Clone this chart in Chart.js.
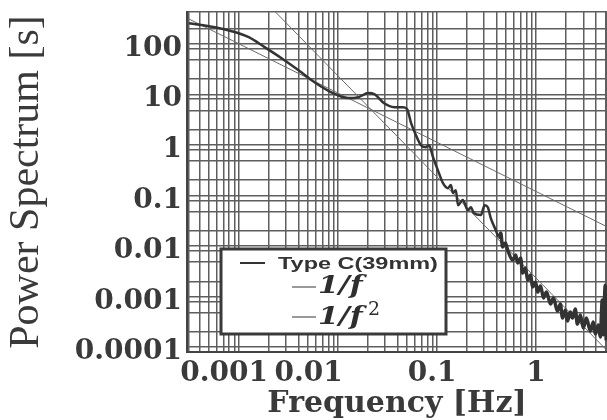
<!DOCTYPE html>
<html>

<head>
  <meta charset="utf-8">
  <title>Power Spectrum - Type C(39mm)</title>
  <script src="https://cdn.jsdelivr.net/npm/chart.js@4.4.0/dist/chart.umd.min.js"></script>
  <style>
    html,
    body {
      margin: 0;
      padding: 0;
      background: #fff;
    }

    canvas {
      display: block;
    }
  </style>
</head>

<body>
  <canvas id="chartJSContainer" width="607" height="420"></canvas>
  <script>
    var freq = [3.14e-4, 5.74e-4, 8.5e-4, 1.26e-3, 1.82e-3, 2.70e-3, 4.01e-3, 5.81e-3, 8.6e-3, 0.0128,
      0.0161, 0.0203, 0.0233, 0.0293, 0.037, 0.0455, 0.05, 0.0548, 0.0601, 0.069,
      0.0775, 0.0831, 0.0912, 0.102, 0.115, 0.129, 0.138, 0.145, 0.155, 0.163,
      0.182, 0.205, 0.22, 0.235, 0.277, 0.303, 0.326, 0.349, 0.392, 0.42,
      0.44, 0.46, 0.49, 0.517, 0.58, 0.622, 0.652, 0.698, 0.731, 0.783,
      0.822, 0.881, 0.922, 0.989, 1.035, 1.11, 1.19, 1.275, 1.40, 1.50,
      1.64, 1.76, 1.85, 1.98, 2.07, 2.22, 2.33, 2.49, 2.61, 2.80,
      3.00, 3.22, 3.53, 3.78, 3.96, 4.25, 4.45, 4.66, 4.77, 4.99, 5.1];
    var power = [318, 265, 221, 168, 107, 64.6, 37.4, 21.7, 13.7, 10.5,
      10.96, 13.2, 12.6, 8.3, 6.95, 6.95, 6.34, 3.36, 2.13, 1.23,
      1.12, 1.23, 0.714, 0.396, 0.219, 0.174, 0.2, 0.139, 0.159, 0.080,
      0.101, 0.064, 0.073, 0.056, 0.051, 0.080, 0.073, 0.0445, 0.0258, 0.0187,
      0.0225, 0.0119, 0.0143, 0.0104, 0.00658, 0.00826, 0.00574, 0.0072, 0.00364, 0.00457,
      0.00265, 0.00333, 0.00193, 0.00242, 0.00153, 0.00201, 0.00117, 0.00153, 0.00089, 0.00117,
      0.000646, 0.00089, 0.00047, 0.000676, 0.00041, 0.000618, 0.00047, 0.000708, 0.000357, 0.000538,
      0.000298, 0.00047, 0.00026, 0.00039, 0.000227, 0.000342, 0.000198, 0.00107, 0.00022, 0.0021, 0.00017];

    // reference slopes (end points)
    var invF = [[3.1e-4, 390], [5.2, 0.03]];
    var invF2 = [[0.0023, 550], [5.2, 1.07e-4]];

    var seriesNames = ['Type C(39mm)', '1/f', '1/f'];
    var xMin = 3.1e-4, xMax = 5.2;
    var yMin = 1e-4, yMax = 530;
    var ySubGrid = [1, 1.25, 2.5, 6];
    var xLabelPad = { '0.001': 3, '0.01': 6, '0.1': 1 };

    function toPts(xs, ys) {
      return xs.map(function(x, i) { return { x: x, y: ys[i] }; });
    }
    function pairPts(arr) {
      return arr.map(function(p) { return { x: p[0], y: p[1] }; });
    }
    function isDecade(v) {
      var l = Math.log10(v);
      return Math.abs(l - Math.round(l)) < 1e-6;
    }

    var gridColor = '#5e5e5e';

    var boxLegend = {
      id: 'boxLegend',
      afterDatasetsDraw: function(chart) {
        var ctx = chart.ctx, a = chart.chartArea;
        var bx = a.left + 34, by = a.bottom - 103, bw = 225, bh = 85;
        ctx.save();
        ctx.fillStyle = '#fff';
        ctx.fillRect(bx, by, bw, bh);
        ctx.lineWidth = 3;
        ctx.strokeStyle = '#3a3a3a';
        ctx.strokeRect(bx, by, bw, bh);

        // row 1
        ctx.strokeStyle = '#333';
        ctx.lineWidth = 2;
        ctx.beginPath();
        ctx.moveTo(bx + 19, by + 14); ctx.lineTo(bx + 44, by + 14);
        ctx.stroke();
        ctx.fillStyle = '#333';
        ctx.textBaseline = 'alphabetic';
        ctx.save();
        ctx.translate(bx + 57, by + 20);
        ctx.scale(1.38, 1);
        ctx.font = 'bold 17px "Liberation Sans", Arial, sans-serif';
        ctx.fillText(seriesNames[0], 0, 0);
        ctx.restore();

        // rows 2, 3
        ctx.strokeStyle = '#777';
        ctx.lineWidth = 1.5;
        [38, 68].forEach(function(dy) {
          ctx.beginPath();
          ctx.moveTo(bx + 71, by + dy); ctx.lineTo(bx + 95, by + dy);
          ctx.stroke();
        });
        ctx.fillStyle = '#2e2e2e';
        [44, 75].forEach(function(dy, i) {
          ctx.save();
          ctx.translate(bx + 97, by + dy);
          ctx.scale(1.2, 1);
          ctx.font = 'italic bold 25px "DejaVu Serif", serif';
          ctx.fillText(seriesNames[i + 1], 0, 0);
          ctx.restore();
        });
        ctx.font = '19px "DejaVu Serif", serif';
        ctx.fillText('2', bx + 147, by + 66);
        ctx.restore();
      }
    };

    var options = {
      type: 'scatter',
      data: {
        datasets: [{
          label: seriesNames[0],
          data: toPts(freq, power),
          showLine: true,
          borderColor: '#333',
          borderWidth: 2.5,
          pointRadius: 0,
          cubicInterpolationMode: 'monotone',
          segment: {
            borderWidth: function(c) { return c.p0.parsed.x > 0.4 ? 3.5 : 2.5; }
          }
        }, {
          label: '1/f',
          data: pairPts(invF),
          showLine: true,
          borderColor: '#6a6a6a',
          borderWidth: 1,
          pointRadius: 0
        }, {
          label: '1/f^2',
          data: pairPts(invF2),
          showLine: true,
          borderColor: '#6a6a6a',
          borderWidth: 1,
          pointRadius: 0
        }]
      },
      options: {
        responsive: false,
        animation: false,
        layout: { padding: 0 },
        plugins: {
          legend: { display: false },
          tooltip: { enabled: false }
        },
        scales: {
          x: {
            type: 'logarithmic',
            min: xMin,
            max: xMax,
            afterBuildTicks: function(scale) {
              var t = [{ value: xMin }];
              for (var e = -4; e <= 0; e++) {
                for (var s = 1; s <= 9; s++) {
                  var v = +(s * Math.pow(10, e)).toPrecision(6);
                  if (v > xMin && v < xMax) t.push({ value: v });
                }
              }
              t.push({ value: xMax });
              scale.ticks = t;
            },
            afterFit: function(scale) {
              scale.height = 68;
              scale.paddingLeft = 0;
              scale.paddingRight = 0;
            },
            grid: { color: gridColor, lineWidth: 1.5, drawTicks: false },
            border: { display: true, color: '#444', width: 2 },
            ticks: {
              autoSkip: false,
              maxRotation: 0,
              minRotation: 0,
              padding: 8,
              color: '#3a3a3a',
              font: { family: '"DejaVu Serif", serif', weight: 'bold', size: 28, lineHeight: 1 },
              callback: function(v) {
                if (!isDecade(v)) return '';
                var s = String(+v.toPrecision(3));
                return s + ' '.repeat(xLabelPad[s] || 0);
              }
            },
            title: {
              display: true,
              text: 'Frequency [Hz]',
              color: '#3a3a3a',
              padding: { top: 0, bottom: 1 },
              font: { family: '"DejaVu Serif", serif', weight: 'bold', size: 30, lineHeight: 1 }
            }
          },
          y: {
            type: 'logarithmic',
            min: yMin,
            max: yMax,
            afterBuildTicks: function(scale) {
              var t = [];
              for (var e = -4; e <= 2; e++) {
                ySubGrid.forEach(function(s) {
                  var v = +(s * Math.pow(10, e)).toPrecision(6);
                  if (v < yMax) t.push({ value: v });
                });
              }
              t.push({ value: yMax });
              scale.ticks = t;
            },
            afterFit: function(scale) {
              scale.width = 187;
              scale.paddingTop = 12;
              scale.paddingBottom = 0;
            },
            grid: { color: gridColor, lineWidth: 1.5, drawTicks: false },
            border: { display: true, color: '#444', width: 2 },
            ticks: {
              autoSkip: false,
              padding: 5,
              color: '#3a3a3a',
              font: { family: '"DejaVu Serif", serif', weight: 'bold', size: 28, lineHeight: 1.2 },
              callback: function(v) {
                return isDecade(v) ? String(+v.toPrecision(3)) : '';
              }
            },
            title: {
              display: true,
              text: 'Power Spectrum [s]',
              color: '#3a3a3a',
              padding: { top: 6, bottom: 0 },
              font: { family: '"Liberation Serif", "Times New Roman", serif', size: 42, lineHeight: 1 }
            }
          }
        }
      },
      plugins: [boxLegend]
    };

    var ctx = document.getElementById('chartJSContainer').getContext('2d');
    window.test = new Chart(ctx, options);
  </script>
</body>

</html>
